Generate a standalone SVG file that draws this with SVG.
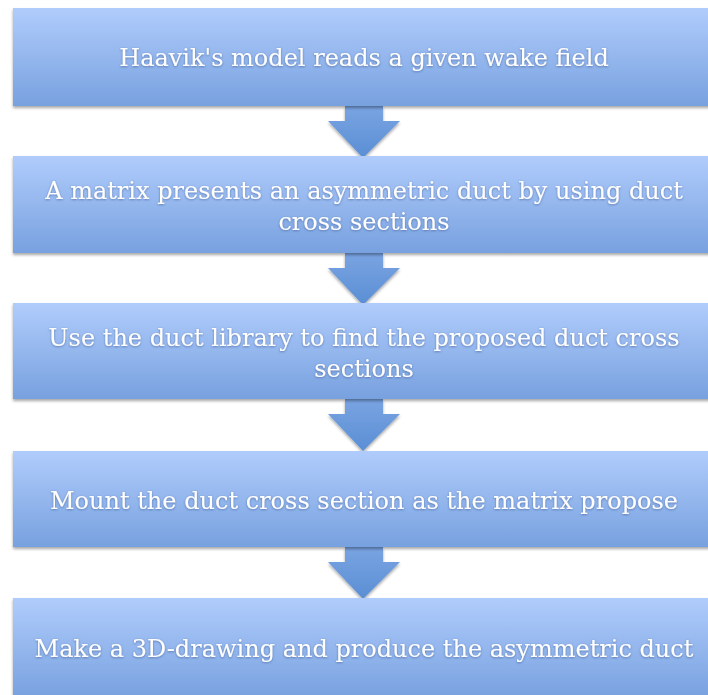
<svg xmlns="http://www.w3.org/2000/svg" width="708" height="695" viewBox="0 0 708 695">
  <defs>
    <linearGradient id="boxGrad" x1="0" y1="0" x2="0" y2="1">
      <stop offset="0" stop-color="#b0ccfc"/>
      <stop offset="1" stop-color="#78a1df"/>
    </linearGradient>
    <linearGradient id="arrowGrad" x1="0" y1="0" x2="0" y2="1">
      <stop offset="0" stop-color="#7aa4e2"/>
      <stop offset="1" stop-color="#5a8ed4"/>
    </linearGradient>
    <filter id="shadow" x="-5%" y="-10%" width="110%" height="125%">
      <feDropShadow dx="0" dy="2" stdDeviation="1.5" flood-color="#000" flood-opacity="0.35"/>
    </filter>
    <filter id="txtShadow" x="-5%" y="-20%" width="110%" height="140%">
      <feDropShadow dx="0" dy="0.8" stdDeviation="0.8" flood-color="#2a4a80" flood-opacity="0.6"/>
    </filter>
    <path id="arrowShape" d="M-18,0 L20,0 L20,15 L37,15 L0,52 L-35,15 L-18,15 Z"/>
  </defs>
  <style>
    .box { fill: url(#boxGrad); filter: url(#shadow); }
    .arrow { fill: url(#arrowGrad); filter: url(#shadow); }
    .label { font-family: "DejaVu Serif", "Liberation Serif", serif; font-size: 24px; fill: #ffffff; text-anchor: middle; filter: url(#txtShadow); }
  </style>
  <rect width="708" height="695" fill="#ffffff"/>

  <g id="connectors">
    <use href="#arrowShape" class="arrow" x="363" y="106"/>
    <use href="#arrowShape" class="arrow" x="363" y="253"/>
    <use href="#arrowShape" class="arrow" x="363" y="399"/>
    <use href="#arrowShape" class="arrow" x="363" y="547"/>
  </g>

  <g id="node1">
    <rect class="box" x="13" y="8" width="700" height="98"/>
    <text class="label" x="364" y="66">Haavik's model reads a given wake field</text>
  </g>
  <g id="node2">
    <rect class="box" x="13" y="156" width="700" height="97"/>
    <text class="label" x="364" y="199">A matrix presents an asymmetric duct by using duct</text>
    <text class="label" x="364" y="230">cross sections</text>
  </g>
  <g id="node3">
    <rect class="box" x="13" y="303" width="700" height="96"/>
    <text class="label" x="364" y="346">Use the duct library to find the proposed duct cross</text>
    <text class="label" x="364" y="377">sections</text>
  </g>
  <g id="node4">
    <rect class="box" x="13" y="451" width="700" height="96"/>
    <text class="label" x="364" y="509">Mount the duct cross section as the matrix propose</text>
  </g>
  <g id="node5">
    <rect class="box" x="13" y="598" width="700" height="100"/>
    <text class="label" x="364" y="657">Make a 3D-drawing and produce the asymmetric duct</text>
  </g>
</svg>
